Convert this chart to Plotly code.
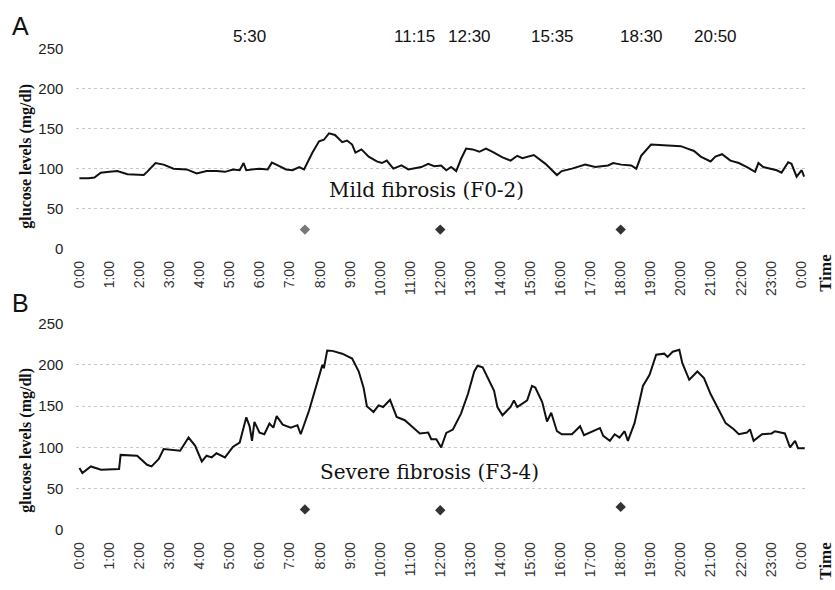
import plotly.graph_objects as go

# ---------------- data ----------------
hour_labels = [f"{h % 24}:00" for h in range(25)]
hour_ticks = list(range(25))

mild_hours = [0.0, 0.3, 0.5, 0.71, 1.0, 1.26, 1.6, 2.14, 2.25, 2.53, 2.8, 3.13, 3.57, 3.9, 4.23,
              4.56, 4.84, 5.11, 5.33, 5.46, 5.55, 5.99, 6.26, 6.4, 6.6, 6.87, 7.09, 7.31, 7.47,
              7.75, 7.97, 8.13, 8.3, 8.5, 8.74, 8.9, 9.07, 9.18, 9.38, 9.62, 9.89, 10.06, 10.22,
              10.44, 10.71, 10.94, 11.37, 11.6, 11.8, 12.03, 12.2, 12.36, 12.53, 12.69, 12.86,
              13.08, 13.3, 13.52, 13.74, 14.07, 14.34, 14.56, 14.73, 15.11, 15.5, 15.88, 16.04,
              16.38, 16.82, 17.15, 17.58, 17.75, 18.02, 18.35, 18.52, 18.68, 19.01, 19.56, 20.0,
              20.22, 20.44, 20.66, 20.99, 21.15, 21.37, 21.65, 21.93, 22.2, 22.47, 22.58, 22.74,
              23.19, 23.35, 23.57, 23.68, 23.85, 24.02, 24.1]
mild_glucose = [88, 88, 89, 95, 96, 97, 93, 92, 96, 107, 105, 100, 99, 94, 97,
                97, 96, 99, 98, 107, 98, 100, 99, 107.5, 104, 99, 98, 102, 99,
                120, 134, 136, 144, 142, 133, 135, 130, 120, 124, 115, 109, 107, 110,
                100, 104, 99, 102, 106, 103, 104, 98, 102, 97, 112, 125,
                124, 121, 125, 121, 114, 110, 116, 113, 117, 106, 92, 97,
                100, 105, 102, 104, 107, 105, 104, 100, 116, 130, 129, 128,
                125, 122, 115, 109, 115, 118, 110, 107, 102, 96, 107, 102,
                98, 95, 108, 106, 90, 98, 90]

severe_hours = [0.0, 0.1, 0.38, 0.72, 1.32, 1.37, 1.92, 2.25, 2.4, 2.64, 2.8, 3.0, 3.35, 3.63,
                3.85, 4.07, 4.23, 4.4, 4.56, 4.84, 5.11, 5.33, 5.45, 5.55, 5.66, 5.74, 5.82, 5.99,
                6.15, 6.32, 6.45, 6.56, 6.76, 7.03, 7.25, 7.36, 7.64, 7.86, 8.08, 8.13, 8.24, 8.41,
                8.74, 9.07, 9.29, 9.45, 9.56, 9.78, 9.95, 10.1, 10.33, 10.55, 10.82, 11.05, 11.32,
                11.6, 11.7, 11.87, 12.03, 12.2, 12.42, 12.69, 12.92, 13.13, 13.24, 13.41, 13.63,
                13.79, 13.9, 14.07, 14.23, 14.34, 14.45, 14.56, 14.89, 15.05, 15.16, 15.39, 15.55,
                15.69, 15.88, 16.04, 16.38, 16.65, 16.78, 17.04, 17.31, 17.42, 17.64, 17.8, 17.96,
                18.13, 18.24, 18.46, 18.74, 18.96, 19.18, 19.45, 19.56, 19.73, 19.95, 20.05, 20.28,
                20.55, 20.77, 20.99, 21.21, 21.49, 21.76, 21.93, 22.2, 22.3, 22.42, 22.7, 23.02,
                23.13, 23.46, 23.63, 23.8, 23.9, 24.12]
severe_glucose = [75, 69, 77, 73, 74, 91, 90, 79, 77, 86, 98, 97, 96, 112,
                  102, 83, 90, 88, 93, 88, 101, 106, 122, 136.5, 125.6, 108, 131, 118,
                  116, 129, 124, 138, 127.6, 124, 127, 116, 145, 172.5, 200, 196, 217.5, 217,
                  213.6, 207.7, 192, 172.5, 150, 143, 151, 149, 157.6, 137, 133, 125.6, 117,
                  118, 110, 110, 100, 117.7, 121.7, 141, 164.7, 192, 199, 197, 180,
                  168.5, 149, 139, 145, 149, 157, 149, 157, 174.5, 172.6, 155, 131.5,
                  142, 119.7, 116, 116, 125.6, 115, 119.7, 123.6, 114, 108, 116, 112,
                  119.7, 108, 129.5, 174.5, 188, 212.4, 213.6, 209.7, 216, 218.3, 202, 182,
                  192, 184, 164.7, 149, 129.5, 122, 116, 118, 122, 108, 116, 117,
                  119.7, 117, 100, 108, 99, 99]

meal_hours = [7.5, 12.0, 18.0]
mild_meal_marks = [24, 24, 24]
severe_meal_marks = [25, 24, 28]

event_times = ["5:30", "11:15", "12:30", "15:35", "18:30", "20:50"]
event_px = [247, 413, 468, 552, 642, 717]

y_ticks = [0, 50, 100, 150, 200, 250]

# ---------------- figure ----------------
W, H = 835, 590
fig = go.Figure()

line_style = dict(color="#111111", width=2)
fig.add_trace(go.Scatter(x=mild_hours, y=mild_glucose, mode="lines", line=line_style,
                         xaxis="x", yaxis="y", showlegend=False))
fig.add_trace(go.Scatter(x=meal_hours, y=mild_meal_marks, mode="markers",
                         marker=dict(symbol="diamond", size=8,
                                     color=["#777777", "#333333", "#333333"]),
                         xaxis="x", yaxis="y", showlegend=False))
fig.add_trace(go.Scatter(x=severe_hours, y=severe_glucose, mode="lines", line=line_style,
                         xaxis="x2", yaxis="y2", showlegend=False))
fig.add_trace(go.Scatter(x=meal_hours, y=severe_meal_marks, mode="markers",
                         marker=dict(symbol="diamond", size=8, color="#333333"),
                         xaxis="x2", yaxis="y2", showlegend=False))

xdom = [72 / W, 808 / W]
xcommon = dict(domain=xdom, range=[-0.1, 24.17], tickvals=hour_ticks, ticktext=hour_labels,
               tickangle=-90, showgrid=False, zeroline=False, showline=False,
               tickfont=dict(family="Liberation Sans", size=14, color="#333333"),
               ticklabelstandoff=8)
ycommon = dict(range=[-0.5, 250.5], tickvals=y_ticks, showgrid=True, gridcolor="#c8c8c8",
               griddash="dot", gridwidth=1, zeroline=False, showline=False,
               tickfont=dict(family="Liberation Sans", size=15, color="#222222"),
               ticklabelstandoff=12)

fig.update_layout(
    width=W, height=H, margin=dict(l=0, r=0, t=0, b=0),
    paper_bgcolor="white", plot_bgcolor="white",
    xaxis=dict(anchor="y", **xcommon),
    yaxis=dict(anchor="x", domain=[1 - 248 / H, 1 - 41 / H], **ycommon),
    xaxis2=dict(anchor="y2", **xcommon),
    yaxis2=dict(anchor="x2", domain=[1 - 537 / H, 1 - 324 / H], **ycommon),
)

ann = []
def px_ann(text, x, y, size, family="Liberation Sans", bold=False, angle=0, color="#111111"):
    ann.append(dict(text=f"<b>{text}</b>" if bold else text, x=x / W, y=1 - y / H,
                    xref="paper", yref="paper", showarrow=False, textangle=angle,
                    xanchor="center", yanchor="middle",
                    font=dict(family=family, size=size, color=color)))

px_ann("A", 16, 18, 25)
px_ann("B", 16, 303, 25)
for t, xp in zip(event_times, event_px):
    px_ann(t, xp, 29, 17)
px_ann("glucose levels (mg/dl)", 21, 152, 16, family="Liberation Serif", bold=True, angle=-90)
px_ann("glucose levels (mg/dl)", 21, 444, 16, family="Liberation Serif", bold=True, angle=-90)
px_ann("Time", 828, 272, 17, family="Liberation Serif", bold=True, angle=-90)
px_ann("Time", 828, 568, 17, family="Liberation Serif", bold=True, angle=-90)
px_ann("Mild fibrosis (F0-2)", 425, 187, 20, family="DejaVu Serif")
px_ann("Severe fibrosis (F3-4)", 428, 477, 20, family="DejaVu Serif")
fig.update_layout(annotations=ann)

fig.write_html("out.html")
